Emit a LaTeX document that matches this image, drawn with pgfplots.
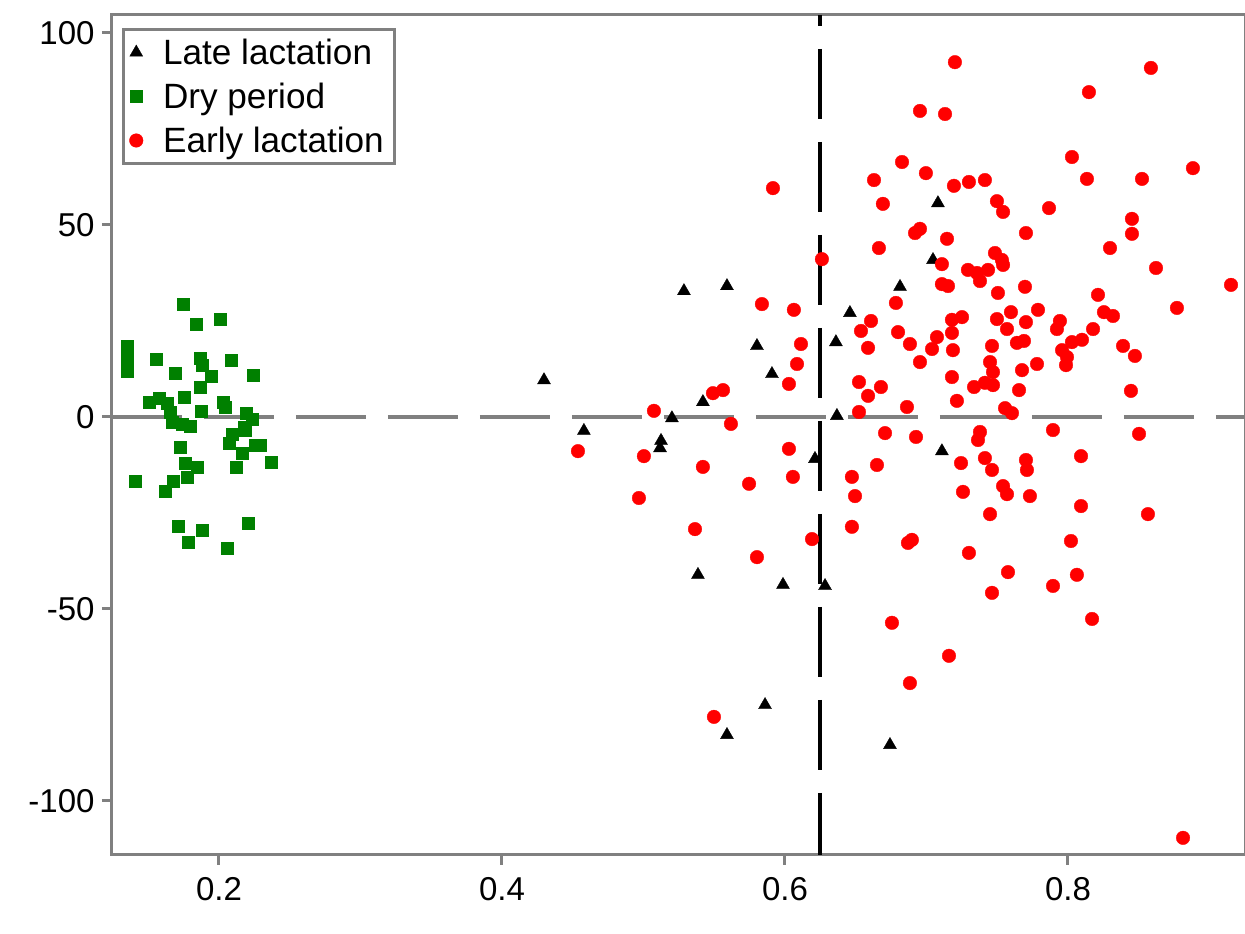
\documentclass[border=0pt]{standalone}
\usepackage{fontspec}
\setmainfont{Liberation Sans}
\usepackage{pgfplots}
\pgfplotsset{compat=1.18}
\definecolor{axgray}{HTML}{808080}
\definecolor{ptred}{HTML}{FF0000}
\definecolor{ptgreen}{HTML}{008000}

\begin{document}
\begin{tikzpicture}
\begin{axis}[
    name=ax,
    scale only axis,
    width=113.3mm, height=84mm,
    xmin=0.1244, xmax=0.9251,
    ymin=-114.06, ymax=104.69,
    xtick={0.2,0.4,0.6,0.8},
    ytick={-100,-50,0,50,100},
    axis line style={axgray, line width=0.3mm},
    tick style={axgray, line width=0.3mm},
    tick align=outside,
    major tick length=1mm,
    tick pos=left,
    ticklabel style={font=\fontsize{9.4}{11}\selectfont, black},
    yticklabel style={xshift=0.5mm},
    /pgf/number format/assume math mode=true,
    legend style={at={(0.0088,0.9845)}, anchor=north west,
        draw=axgray, line width=0.3mm,
        font=\fontsize{10}{12}\selectfont,
        inner xsep=0.6mm, inner ysep=0.2mm,
        nodes={inner sep=0.5mm, text height=2.8mm, text depth=0.4mm},
        row sep=0.2mm,
        /tikz/every odd column/.append style={column sep=1.5mm}},
    legend cell align=left,
    legend image code/.code={\draw[#1] plot coordinates {(0.15cm,0cm)};},
]
% reference lines
\addplot[forget plot, axgray, line width=0.4mm, dash pattern=on 7mm off 2.2mm]
    coordinates {(0.1244,0) (0.9251,0)};
\addplot[forget plot, black, line width=0.4mm, dash pattern=on 7mm off 2.3mm, dash phase=5.9mm]
    coordinates {(0.625,104.69) (0.625,-114.06)};

% Late lactation
\addplot[only marks, mark=triangle*, mark size=0.75mm, color=black,
    mark options={line width=0.1pt}] coordinates {
(0.4297,9.6) (0.4579,-3.6) (0.5201,-0.3) (0.5124,-6.2) (0.5117,-8.1)
(0.5286,32.8) (0.5590,34.1) (0.5802,18.5) (0.5908,11.2) (0.5420,3.9)
(0.6212,-10.9) (0.6367,0.3) (0.6360,19.5) (0.6459,27.1) (0.6813,33.9)
(0.5385,-41.1) (0.5986,-43.7) (0.6283,-44.0) (0.5859,-75.0) (0.5590,-82.8)
(0.6742,-85.4) (0.7081,55.7) (0.7046,40.9) (0.7109,-8.9)
};
\addlegendentry{Late lactation}

% Dry period
\addplot[only marks, mark=square*, mark size=0.6mm, color=ptgreen,
    mark options={line width=0.1pt}] coordinates {
(0.1746,29.4) (0.1837,24.2) (0.2007,25.5) (0.1350,18.5) (0.1350,16.4)
(0.1350,14.3) (0.1350,12.0) (0.1555,15.1) (0.1866,15.4) (0.1880,13.5)
(0.1943,10.7) (0.2085,14.8) (0.1689,11.5) (0.2240,10.9) (0.1866,7.8)
(0.1753,5.2) (0.1505,3.9) (0.1576,4.9) (0.1633,3.6) (0.1654,1.3)
(0.1873,1.6) (0.2028,3.9) (0.2042,2.6) (0.2191,1.0) (0.2233,-0.5)
(0.1668,-1.3) (0.1739,-1.8) (0.1795,-2.3) (0.2177,-2.6) (0.2184,-3.4)
(0.2092,-4.4) (0.2071,-6.8) (0.1724,-7.8) (0.2254,-7.3) (0.2290,-7.3)
(0.2163,-9.4) (0.2367,-11.7) (0.1760,-12.0) (0.1845,-13.0) (0.2120,-13.0)
(0.1774,-15.6) (0.1406,-16.7) (0.1675,-16.7) (0.1618,-19.3) (0.1710,-28.4)
(0.1880,-29.4) (0.1781,-32.6) (0.2205,-27.6) (0.2057,-34.1)
};
\addlegendentry{Dry period}

% Early lactation
\addplot[only marks, mark=*, mark size=0.68mm, color=ptred,
    mark options={line width=0.1pt}] coordinates {
(0.5074,1.6) (0.4537,-8.9) (0.5003,-10.2) (0.4968,-21.1) (0.5364,-29.2)
(0.5915,59.6) (0.6629,61.7) (0.6692,55.5) (0.6827,66.4) (0.6664,44.0)
(0.6261,41.1) (0.5837,29.4) (0.6063,27.9) (0.6113,19.0) (0.6085,13.8)
(0.6028,8.6) (0.5491,6.2) (0.5562,7.0) (0.5618,-1.8) (0.6028,-8.3)
(0.5420,-13.0) (0.5746,-17.4) (0.6056,-15.6) (0.6608,25.0) (0.6537,22.4)
(0.6784,29.7) (0.6799,22.1) (0.6587,18.0) (0.6523,9.1) (0.6678,7.8)
(0.6587,5.5) (0.6523,1.3) (0.6707,-4.2) (0.6650,-12.5) (0.6473,-15.6)
(0.6495,-20.6) (0.6473,-28.6) (0.6191,-31.8) (0.5802,-36.5) (0.6756,-53.6)
(0.5498,-78.1) (0.7201,92.4) (0.6954,79.7) (0.7131,78.9) (0.8148,84.6)
(0.6996,63.5) (0.7194,60.2) (0.7300,61.2) (0.7413,61.7) (0.8028,67.7)
(0.8134,62.0) (0.7498,56.2) (0.7541,53.4) (0.7866,54.4) (0.6919,47.9)
(0.6954,49.0) (0.7145,46.4) (0.7703,47.9) (0.7484,42.7) (0.7533,40.9)
(0.7541,39.6) (0.7109,39.8) (0.7293,38.3) (0.7357,37.5) (0.7435,38.3)
(0.7378,35.4) (0.7109,34.6) (0.7152,34.1) (0.7696,33.9) (0.7505,32.3)
(0.8212,31.8) (0.7180,25.3) (0.7251,26.0) (0.6883,19.0) (0.7074,20.8)
(0.7039,17.7) (0.7180,21.9) (0.7187,17.4) (0.6954,14.3) (0.7498,25.5)
(0.7597,27.3) (0.7788,27.9) (0.7703,24.7) (0.7569,22.9) (0.7943,25.0)
(0.7922,22.9) (0.8177,22.9) (0.8099,20.1) (0.8028,19.5) (0.7958,17.4)
(0.7993,15.6) (0.7986,13.5) (0.7639,19.3) (0.7689,19.8) (0.7463,18.5)
(0.7449,14.3) (0.7470,11.7) (0.7413,8.9) (0.7470,8.3) (0.7336,7.8)
(0.7781,13.8) (0.7675,12.2) (0.7654,7.0) (0.7180,10.4) (0.7215,4.2)
(0.6862,2.6) (0.7555,2.3) (0.7604,1.0) (0.7894,-3.4) (0.6926,-5.2)
(0.7378,-3.9) (0.7364,-6.0) (0.7244,-12.0) (0.7413,-10.7) (0.7463,-13.8)
(0.7703,-11.2) (0.7710,-13.8) (0.8092,-10.2) (0.7541,-18.0) (0.7569,-20.1)
(0.7258,-19.5) (0.7731,-20.6) (0.7449,-25.3) (0.8092,-23.2) (0.6869,-32.8)
(0.6897,-32.0) (0.7300,-35.4) (0.8021,-32.3) (0.7576,-40.4) (0.8063,-41.1)
(0.7894,-44.0) (0.7463,-45.8) (0.8170,-52.6) (0.7159,-62.2) (0.6883,-69.3)
(0.8586,90.9) (0.8883,64.8) (0.8523,62.0) (0.8452,51.6) (0.8452,47.7)
(0.8297,44.0) (0.8622,38.8) (0.9152,34.4) (0.8254,27.3) (0.8318,26.3)
(0.8770,28.4) (0.8389,18.5) (0.8473,15.9) (0.8445,6.8) (0.8502,-4.4)
(0.8565,-25.3) (0.8813,-109.6)
};
\addlegendentry{Early lactation\hspace{1.6mm}}
\end{axis}
\pgfresetboundingbox
\path[use as bounding box] ([xshift=-11.2mm,yshift=-7.9mm]ax.south west)
    rectangle ([yshift=1.5mm]ax.north east);
\end{tikzpicture}
\end{document}
